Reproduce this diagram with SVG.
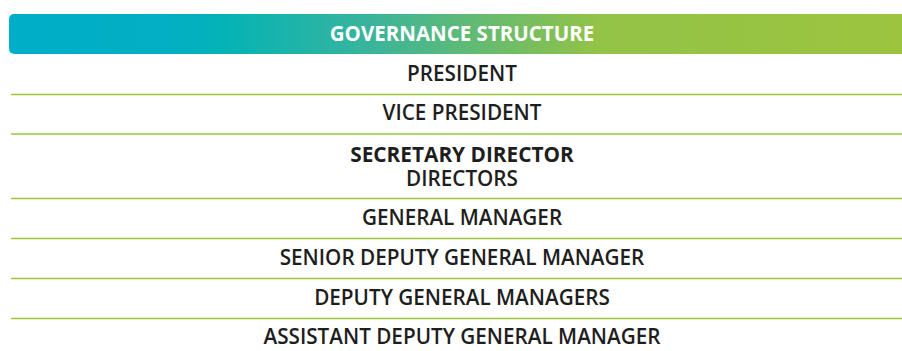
<svg xmlns="http://www.w3.org/2000/svg" width="902" height="351" viewBox="0 0 902 351">
<defs>
<linearGradient id="hg" x1="9" y1="0" x2="902" y2="0" gradientUnits="userSpaceOnUse">
<stop offset="0" stop-color="#00aec8"/>
<stop offset="0.19" stop-color="#02afc3"/>
<stop offset="0.24" stop-color="#04b3b6"/>
<stop offset="0.4" stop-color="#38b49d"/>
<stop offset="0.55" stop-color="#6cbc69"/>
<stop offset="0.66" stop-color="#93c347"/>
<stop offset="1" stop-color="#9cc43f"/>
</linearGradient>
<style>
.t{font-family:"Open Sans","Noto Sans",sans-serif;font-size:20.7px;fill:#1e1e1e;text-anchor:middle;font-weight:600}
.b{font-weight:700;font-size:20.8px}
.h{font-family:"Open Sans","Noto Sans",sans-serif;font-size:20.5px;fill:#ffffff;text-anchor:middle;font-weight:700}
.ln{stroke:#9dc43a;stroke-width:1.5}
</style>
</defs>
<g id="header">
<rect x="9" y="14" width="900" height="40" rx="5" fill="url(#hg)"/>
<text class="h" x="462" y="41">GOVERNANCE STRUCTURE</text>
</g>
<g id="connectors">
<line class="ln" x1="11" y1="94.5" x2="902" y2="94.5"/>
<line class="ln" x1="11" y1="134" x2="902" y2="134"/>
<line class="ln" x1="11" y1="198.5" x2="902" y2="198.5"/>
<line class="ln" x1="11" y1="238.5" x2="902" y2="238.5"/>
<line class="ln" x1="11" y1="278.5" x2="902" y2="278.5"/>
<line class="ln" x1="11" y1="318.5" x2="902" y2="318.5"/>
</g>
<g id="president"><text class="t" x="462" y="81">PRESIDENT</text></g>
<g id="vice-president"><text class="t" x="462" y="120">VICE PRESIDENT</text></g>
<g id="directors"><text class="t" x="462" y="161.5"><tspan class="b">SECRETARY DIRECTOR</tspan><tspan x="462" y="185.5">DIRECTORS</tspan></text></g>
<g id="general-manager"><text class="t" x="462" y="225">GENERAL MANAGER</text></g>
<g id="senior-dgm"><text class="t" x="462" y="265">SENIOR DEPUTY GENERAL MANAGER</text></g>
<g id="dgms"><text class="t" x="462" y="305">DEPUTY GENERAL MANAGERS</text></g>
<g id="adgm"><text class="t" x="462" y="344">ASSISTANT DEPUTY GENERAL MANAGER</text></g>
</svg>
